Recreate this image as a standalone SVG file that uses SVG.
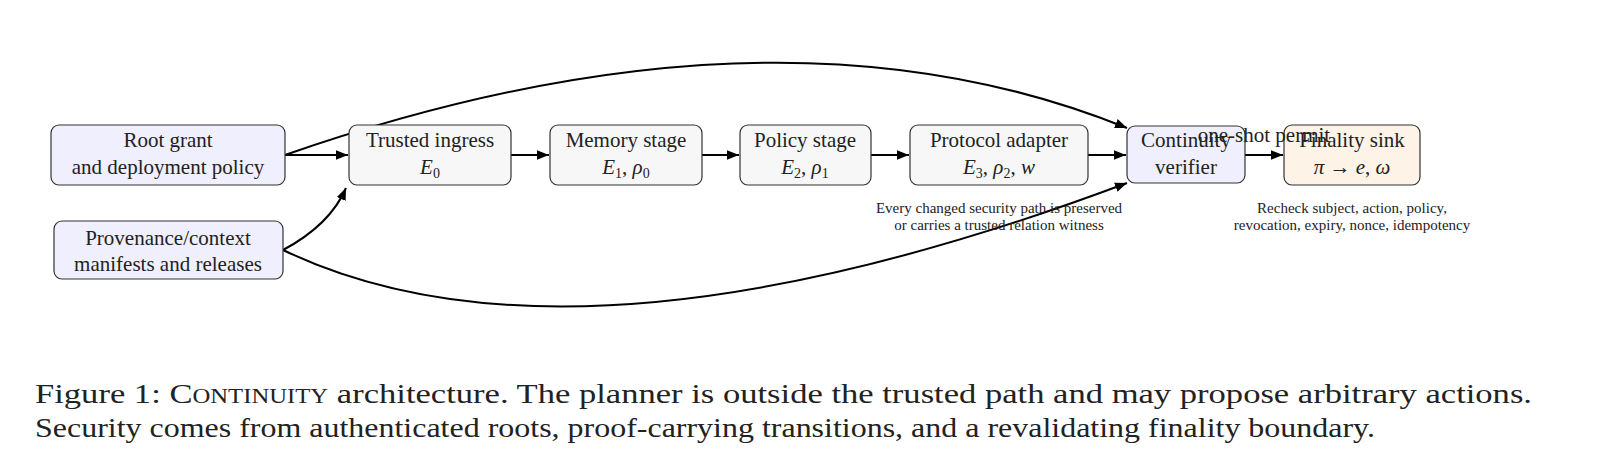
<svg xmlns="http://www.w3.org/2000/svg" width="1613" height="475" viewBox="0 0 1613 475">
<style>
text{font-family:"Liberation Serif","DejaVu Serif",serif;fill:#222}
.n{font-size:21px;text-anchor:middle}
.s{font-size:15px;text-anchor:middle}
.c{font-size:28px}
.b{stroke:#333;stroke-width:1.2}
.l{fill:#efeffd}.g{fill:#f7f7f7}.o{fill:#fdf3e7}
.e{fill:none;stroke:#000;stroke-width:2;marker-end:url(#a)}
</style>
<defs><marker id="a" viewBox="0 0 10 10" refX="10" refY="5" markerWidth="6" markerHeight="6" orient="auto"><path d="M0,1 L10,5 L0,9 z" fill="#000"/></marker></defs>
<rect width="1613" height="475" fill="#fff"/>
<g id="edges">
<path class="e" d="M285,155 L348,155"/>
<path class="e" d="M511,155 L549,155"/>
<path class="e" d="M702,155 L739,155"/>
<path class="e" d="M871,155 L909,155"/>
<path class="e" d="M1088,155 L1126,155"/>
<path class="e" d="M1245,155 L1283,155"/>
<path class="e" d="M285,155 Q774,-15 1127,128"/>
<path class="e" d="M283,250 Q330,225 346,188"/>
<path class="e" d="M283,250 Q575,390 1127,183"/>
</g>
<g id="root"><rect class="b l" x="51" y="125" width="234" height="60" rx="8"/><text class="n" x="168" y="147">Root grant</text><text class="n" x="168" y="174">and deployment policy</text></g>
<g id="prov"><rect class="b l" x="54" y="221" width="229" height="58" rx="8"/><text class="n" x="168" y="245">Provenance/context</text><text class="n" x="168" y="271">manifests and releases</text></g>
<g id="ingress"><rect class="b g" x="349" y="125" width="162" height="60" rx="8"/><text class="n" x="430" y="147">Trusted ingress</text><text class="n" x="430" y="174"><tspan font-style="italic">E</tspan><tspan font-size="14" dy="4">0</tspan></text></g>
<g id="memory"><rect class="b g" x="550" y="125" width="152" height="60" rx="8"/><text class="n" x="626" y="147">Memory stage</text><text class="n" x="626" y="174"><tspan font-style="italic">E</tspan><tspan font-size="14" dy="4">1</tspan><tspan dy="-4">, </tspan><tspan font-style="italic">ρ</tspan><tspan font-size="14" dy="4">0</tspan></text></g>
<g id="policy"><rect class="b g" x="740" y="125" width="131" height="60" rx="8"/><text class="n" x="805" y="147">Policy stage</text><text class="n" x="805" y="174"><tspan font-style="italic">E</tspan><tspan font-size="14" dy="4">2</tspan><tspan dy="-4">, </tspan><tspan font-style="italic">ρ</tspan><tspan font-size="14" dy="4">1</tspan></text></g>
<g id="protocol"><rect class="b g" x="910" y="125" width="178" height="60" rx="8"/><text class="n" x="999" y="147">Protocol adapter</text><text class="n" x="999" y="174"><tspan font-style="italic">E</tspan><tspan font-size="14" dy="4">3</tspan><tspan dy="-4">, </tspan><tspan font-style="italic">ρ</tspan><tspan font-size="14" dy="4">2</tspan><tspan dy="-4">, </tspan><tspan font-style="italic">w</tspan></text></g>
<g id="verifier"><rect class="b l" x="1127" y="126" width="118" height="57" rx="8"/><text class="n" x="1186" y="147">Continuity</text><text class="n" x="1186" y="174">verifier</text></g>
<g id="sink"><rect class="b o" x="1284" y="125" width="136" height="60" rx="8"/><text class="n" x="1352" y="147">Finality sink</text><text class="n" x="1352" y="174"><tspan font-style="italic">π</tspan> → <tspan font-style="italic">e</tspan>, <tspan font-style="italic">ω</tspan></text></g>
<text class="n" x="1264" y="142">one-shot permit</text>
<text class="s" x="999" y="213">Every changed security path is preserved</text>
<text class="s" x="999" y="230">or carries a trusted relation witness</text>
<text class="s" x="1352" y="213">Recheck subject, action, policy,</text>
<text class="s" x="1352" y="230">revocation, expiry, nonce, idempotency</text>
<text class="c" x="35" y="403" textLength="1497" lengthAdjust="spacingAndGlyphs">Figure 1: <tspan font-variant="small-caps">Continuity</tspan> architecture. The planner is outside the trusted path and may propose arbitrary actions.</text>
<text class="c" x="35" y="437" textLength="1340" lengthAdjust="spacingAndGlyphs">Security comes from authenticated roots, proof-carrying transitions, and a revalidating finality boundary.</text>
</svg>
